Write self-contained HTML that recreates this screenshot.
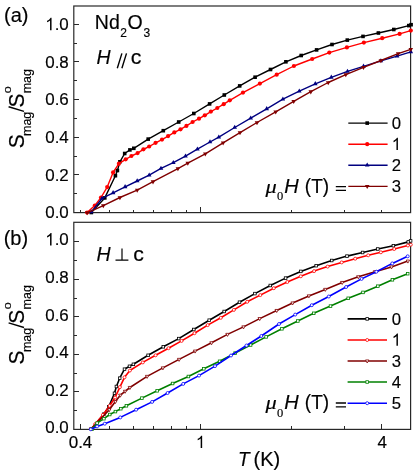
<!DOCTYPE html>
<html><head><meta charset="utf-8"><title>fig</title>
<style>
html,body{margin:0;padding:0;background:#fff;}
body{width:415px;height:475px;overflow:hidden;position:relative;font-family:"Liberation Sans",sans-serif;}
svg text{font-family:"Liberation Sans",sans-serif;}
</style></head><body>
<svg width="415" height="475" viewBox="0 0 415 475" style="position:absolute;left:0;top:0">
<rect x="0" y="0" width="415" height="475" fill="#ffffff"/>
<rect x="73.8" y="6.0" width="336.8" height="206.6" stroke="#282828" stroke-width="1.2" fill="none"/>
<g stroke="#282828" stroke-width="1" fill="none" shape-rendering="crispEdges">
<line x1="73.8" y1="193.77" x2="76.8" y2="193.77"/>
<line x1="73.8" y1="174.94" x2="79.1" y2="174.94"/>
<line x1="73.8" y1="156.11" x2="76.8" y2="156.11"/>
<line x1="73.8" y1="137.28" x2="79.1" y2="137.28"/>
<line x1="73.8" y1="118.45" x2="76.8" y2="118.45"/>
<line x1="73.8" y1="99.62" x2="79.1" y2="99.62"/>
<line x1="73.8" y1="80.79" x2="76.8" y2="80.79"/>
<line x1="73.8" y1="61.96" x2="79.1" y2="61.96"/>
<line x1="73.8" y1="43.13" x2="76.8" y2="43.13"/>
<line x1="73.8" y1="24.30" x2="79.1" y2="24.30"/>
<line x1="80.20" y1="212.6" x2="80.20" y2="209.6"/>
<line x1="109.44" y1="212.6" x2="109.44" y2="209.6"/>
<line x1="133.33" y1="212.6" x2="133.33" y2="209.6"/>
<line x1="153.52" y1="212.6" x2="153.52" y2="209.6"/>
<line x1="171.02" y1="212.6" x2="171.02" y2="209.6"/>
<line x1="186.45" y1="212.6" x2="186.45" y2="209.6"/>
<line x1="200.26" y1="212.6" x2="200.26" y2="207.3"/>
<line x1="291.08" y1="212.6" x2="291.08" y2="209.6"/>
<line x1="344.21" y1="212.6" x2="344.21" y2="209.6"/>
<line x1="381.90" y1="212.6" x2="381.90" y2="209.6"/>
</g>
<rect x="73.8" y="222.3" width="336.8" height="207.1" stroke="#282828" stroke-width="1.2" fill="none"/>
<g stroke="#282828" stroke-width="1" fill="none" shape-rendering="crispEdges">
<line x1="73.8" y1="410.63" x2="76.8" y2="410.63"/>
<line x1="73.8" y1="391.86" x2="79.1" y2="391.86"/>
<line x1="73.8" y1="373.09" x2="76.8" y2="373.09"/>
<line x1="73.8" y1="354.32" x2="79.1" y2="354.32"/>
<line x1="73.8" y1="335.55" x2="76.8" y2="335.55"/>
<line x1="73.8" y1="316.78" x2="79.1" y2="316.78"/>
<line x1="73.8" y1="298.01" x2="76.8" y2="298.01"/>
<line x1="73.8" y1="279.24" x2="79.1" y2="279.24"/>
<line x1="73.8" y1="260.47" x2="76.8" y2="260.47"/>
<line x1="73.8" y1="241.70" x2="79.1" y2="241.70"/>
<line x1="80.20" y1="429.4" x2="80.20" y2="424.1"/>
<line x1="109.44" y1="429.4" x2="109.44" y2="426.4"/>
<line x1="133.33" y1="429.4" x2="133.33" y2="426.4"/>
<line x1="153.52" y1="429.4" x2="153.52" y2="426.4"/>
<line x1="171.02" y1="429.4" x2="171.02" y2="426.4"/>
<line x1="186.45" y1="429.4" x2="186.45" y2="426.4"/>
<line x1="200.26" y1="429.4" x2="200.26" y2="424.1"/>
<line x1="291.08" y1="429.4" x2="291.08" y2="426.4"/>
<line x1="344.21" y1="429.4" x2="344.21" y2="426.4"/>
<line x1="381.90" y1="429.4" x2="381.90" y2="424.1"/>
</g>
<clipPath id="ct"><rect x="70.8" y="3.0" width="342.8" height="212.6"/></clipPath>
<clipPath id="cb"><rect x="70.8" y="219.3" width="342.8" height="213.1"/></clipPath>
<g clip-path="url(#ct)">
<polyline fill="none" stroke="#000000" stroke-width="1.40" stroke-linejoin="round" points="91.3,212.5 104.8,197.9 115.4,175.7 117.4,170.5 119.9,161.8 124.7,153.5 129.9,149.9 133.8,148.3 148.2,139.1 163.3,130.7 178.7,122.0 193.8,113.5 209.6,103.9 224.3,95.0 239.7,85.9 255.1,77.2 270.5,69.5 285.9,61.8 301.2,55.5 316.6,49.9 332.0,44.5 347.3,40.1 363.0,36.4 378.4,33.0 393.8,29.5 408.8,25.6 411.1,24.7"/>
<rect x="89.5" y="210.7" width="3.6" height="3.6" fill="#000000" stroke="#000000" stroke-width="0.0"/>
<rect x="103.0" y="196.1" width="3.6" height="3.6" fill="#000000" stroke="#000000" stroke-width="0.0"/>
<rect x="113.6" y="173.9" width="3.6" height="3.6" fill="#000000" stroke="#000000" stroke-width="0.0"/>
<rect x="115.6" y="168.7" width="3.6" height="3.6" fill="#000000" stroke="#000000" stroke-width="0.0"/>
<rect x="118.1" y="160.0" width="3.6" height="3.6" fill="#000000" stroke="#000000" stroke-width="0.0"/>
<rect x="122.9" y="151.7" width="3.6" height="3.6" fill="#000000" stroke="#000000" stroke-width="0.0"/>
<rect x="128.1" y="148.1" width="3.6" height="3.6" fill="#000000" stroke="#000000" stroke-width="0.0"/>
<rect x="132.0" y="146.5" width="3.6" height="3.6" fill="#000000" stroke="#000000" stroke-width="0.0"/>
<rect x="146.4" y="137.3" width="3.6" height="3.6" fill="#000000" stroke="#000000" stroke-width="0.0"/>
<rect x="161.5" y="128.9" width="3.6" height="3.6" fill="#000000" stroke="#000000" stroke-width="0.0"/>
<rect x="176.9" y="120.2" width="3.6" height="3.6" fill="#000000" stroke="#000000" stroke-width="0.0"/>
<rect x="192.0" y="111.7" width="3.6" height="3.6" fill="#000000" stroke="#000000" stroke-width="0.0"/>
<rect x="207.8" y="102.1" width="3.6" height="3.6" fill="#000000" stroke="#000000" stroke-width="0.0"/>
<rect x="222.5" y="93.2" width="3.6" height="3.6" fill="#000000" stroke="#000000" stroke-width="0.0"/>
<rect x="237.9" y="84.1" width="3.6" height="3.6" fill="#000000" stroke="#000000" stroke-width="0.0"/>
<rect x="253.3" y="75.4" width="3.6" height="3.6" fill="#000000" stroke="#000000" stroke-width="0.0"/>
<rect x="268.7" y="67.7" width="3.6" height="3.6" fill="#000000" stroke="#000000" stroke-width="0.0"/>
<rect x="284.1" y="60.0" width="3.6" height="3.6" fill="#000000" stroke="#000000" stroke-width="0.0"/>
<rect x="299.4" y="53.7" width="3.6" height="3.6" fill="#000000" stroke="#000000" stroke-width="0.0"/>
<rect x="314.8" y="48.1" width="3.6" height="3.6" fill="#000000" stroke="#000000" stroke-width="0.0"/>
<rect x="330.2" y="42.7" width="3.6" height="3.6" fill="#000000" stroke="#000000" stroke-width="0.0"/>
<rect x="345.5" y="38.3" width="3.6" height="3.6" fill="#000000" stroke="#000000" stroke-width="0.0"/>
<rect x="361.2" y="34.6" width="3.6" height="3.6" fill="#000000" stroke="#000000" stroke-width="0.0"/>
<rect x="376.6" y="31.2" width="3.6" height="3.6" fill="#000000" stroke="#000000" stroke-width="0.0"/>
<rect x="392.0" y="27.7" width="3.6" height="3.6" fill="#000000" stroke="#000000" stroke-width="0.0"/>
<rect x="407.0" y="23.8" width="3.6" height="3.6" fill="#000000" stroke="#000000" stroke-width="0.0"/>
<rect x="409.3" y="22.9" width="3.6" height="3.6" fill="#000000" stroke="#000000" stroke-width="0.0"/>
<polyline fill="none" stroke="#ff0000" stroke-width="1.40" stroke-linejoin="round" points="87.1,212.5 94.8,205.6 101.0,197.5 107.2,187.1 113.1,172.4 118.9,163.7 125.7,159.3 131.4,156.0 137.6,153.1 143.4,149.3 149.2,146.5 155.6,142.8 162.0,139.6 168.1,136.1 174.3,132.4 180.5,129.3 186.4,125.9 192.6,122.0 199.0,118.7 204.8,115.3 210.9,111.6 217.3,108.0 223.7,104.2 229.8,100.3 243.0,92.6 259.9,83.6 276.7,74.7 293.9,66.0 312.2,59.0 329.3,52.6 346.9,47.4 363.9,42.6 382.2,38.2 399.6,33.9 410.8,30.6"/>
<circle cx="87.1" cy="212.5" r="2.1" fill="#ff0000" stroke="#ff0000" stroke-width="0.0"/>
<circle cx="94.8" cy="205.6" r="2.1" fill="#ff0000" stroke="#ff0000" stroke-width="0.0"/>
<circle cx="101.0" cy="197.5" r="2.1" fill="#ff0000" stroke="#ff0000" stroke-width="0.0"/>
<circle cx="107.2" cy="187.1" r="2.1" fill="#ff0000" stroke="#ff0000" stroke-width="0.0"/>
<circle cx="113.1" cy="172.4" r="2.1" fill="#ff0000" stroke="#ff0000" stroke-width="0.0"/>
<circle cx="118.9" cy="163.7" r="2.1" fill="#ff0000" stroke="#ff0000" stroke-width="0.0"/>
<circle cx="125.7" cy="159.3" r="2.1" fill="#ff0000" stroke="#ff0000" stroke-width="0.0"/>
<circle cx="131.4" cy="156.0" r="2.1" fill="#ff0000" stroke="#ff0000" stroke-width="0.0"/>
<circle cx="137.6" cy="153.1" r="2.1" fill="#ff0000" stroke="#ff0000" stroke-width="0.0"/>
<circle cx="143.4" cy="149.3" r="2.1" fill="#ff0000" stroke="#ff0000" stroke-width="0.0"/>
<circle cx="149.2" cy="146.5" r="2.1" fill="#ff0000" stroke="#ff0000" stroke-width="0.0"/>
<circle cx="155.6" cy="142.8" r="2.1" fill="#ff0000" stroke="#ff0000" stroke-width="0.0"/>
<circle cx="162.0" cy="139.6" r="2.1" fill="#ff0000" stroke="#ff0000" stroke-width="0.0"/>
<circle cx="168.1" cy="136.1" r="2.1" fill="#ff0000" stroke="#ff0000" stroke-width="0.0"/>
<circle cx="174.3" cy="132.4" r="2.1" fill="#ff0000" stroke="#ff0000" stroke-width="0.0"/>
<circle cx="180.5" cy="129.3" r="2.1" fill="#ff0000" stroke="#ff0000" stroke-width="0.0"/>
<circle cx="186.4" cy="125.9" r="2.1" fill="#ff0000" stroke="#ff0000" stroke-width="0.0"/>
<circle cx="192.6" cy="122.0" r="2.1" fill="#ff0000" stroke="#ff0000" stroke-width="0.0"/>
<circle cx="199.0" cy="118.7" r="2.1" fill="#ff0000" stroke="#ff0000" stroke-width="0.0"/>
<circle cx="204.8" cy="115.3" r="2.1" fill="#ff0000" stroke="#ff0000" stroke-width="0.0"/>
<circle cx="210.9" cy="111.6" r="2.1" fill="#ff0000" stroke="#ff0000" stroke-width="0.0"/>
<circle cx="217.3" cy="108.0" r="2.1" fill="#ff0000" stroke="#ff0000" stroke-width="0.0"/>
<circle cx="223.7" cy="104.2" r="2.1" fill="#ff0000" stroke="#ff0000" stroke-width="0.0"/>
<circle cx="229.8" cy="100.3" r="2.1" fill="#ff0000" stroke="#ff0000" stroke-width="0.0"/>
<circle cx="243.0" cy="92.6" r="2.1" fill="#ff0000" stroke="#ff0000" stroke-width="0.0"/>
<circle cx="259.9" cy="83.6" r="2.1" fill="#ff0000" stroke="#ff0000" stroke-width="0.0"/>
<circle cx="276.7" cy="74.7" r="2.1" fill="#ff0000" stroke="#ff0000" stroke-width="0.0"/>
<circle cx="293.9" cy="66.0" r="2.1" fill="#ff0000" stroke="#ff0000" stroke-width="0.0"/>
<circle cx="312.2" cy="59.0" r="2.1" fill="#ff0000" stroke="#ff0000" stroke-width="0.0"/>
<circle cx="329.3" cy="52.6" r="2.1" fill="#ff0000" stroke="#ff0000" stroke-width="0.0"/>
<circle cx="346.9" cy="47.4" r="2.1" fill="#ff0000" stroke="#ff0000" stroke-width="0.0"/>
<circle cx="363.9" cy="42.6" r="2.1" fill="#ff0000" stroke="#ff0000" stroke-width="0.0"/>
<circle cx="382.2" cy="38.2" r="2.1" fill="#ff0000" stroke="#ff0000" stroke-width="0.0"/>
<circle cx="399.6" cy="33.9" r="2.1" fill="#ff0000" stroke="#ff0000" stroke-width="0.0"/>
<circle cx="410.8" cy="30.6" r="2.1" fill="#ff0000" stroke="#ff0000" stroke-width="0.0"/>
<polyline fill="none" stroke="#000080" stroke-width="1.40" stroke-linejoin="round" points="91.3,212.0 102.0,198.4 113.1,192.8 125.1,186.8 137.2,181.0 149.2,175.2 161.0,168.4 173.3,162.6 185.5,156.1 197.4,149.1 210.0,142.0 218.8,137.2 234.7,127.5 250.7,118.2 266.7,108.8 282.9,99.2 299.3,91.1 315.3,83.8 331.3,77.3 347.5,71.4 363.5,66.3 380.9,60.9 397.1,56.1 410.8,51.8"/>
<polygon points="91.30,209.30 89.00,213.35 93.60,213.35" fill="#000080" stroke="#000080" stroke-width="0.0"/>
<polygon points="102.00,195.70 99.70,199.75 104.30,199.75" fill="#000080" stroke="#000080" stroke-width="0.0"/>
<polygon points="113.10,190.10 110.80,194.15 115.40,194.15" fill="#000080" stroke="#000080" stroke-width="0.0"/>
<polygon points="125.10,184.10 122.80,188.15 127.40,188.15" fill="#000080" stroke="#000080" stroke-width="0.0"/>
<polygon points="137.20,178.30 134.90,182.35 139.50,182.35" fill="#000080" stroke="#000080" stroke-width="0.0"/>
<polygon points="149.20,172.50 146.90,176.55 151.50,176.55" fill="#000080" stroke="#000080" stroke-width="0.0"/>
<polygon points="161.00,165.70 158.70,169.75 163.30,169.75" fill="#000080" stroke="#000080" stroke-width="0.0"/>
<polygon points="173.30,159.90 171.00,163.95 175.60,163.95" fill="#000080" stroke="#000080" stroke-width="0.0"/>
<polygon points="185.50,153.40 183.20,157.45 187.80,157.45" fill="#000080" stroke="#000080" stroke-width="0.0"/>
<polygon points="197.40,146.40 195.10,150.45 199.70,150.45" fill="#000080" stroke="#000080" stroke-width="0.0"/>
<polygon points="210.00,139.30 207.70,143.35 212.30,143.35" fill="#000080" stroke="#000080" stroke-width="0.0"/>
<polygon points="218.80,134.50 216.50,138.55 221.10,138.55" fill="#000080" stroke="#000080" stroke-width="0.0"/>
<polygon points="234.70,124.80 232.40,128.85 237.00,128.85" fill="#000080" stroke="#000080" stroke-width="0.0"/>
<polygon points="250.70,115.50 248.40,119.55 253.00,119.55" fill="#000080" stroke="#000080" stroke-width="0.0"/>
<polygon points="266.70,106.10 264.40,110.15 269.00,110.15" fill="#000080" stroke="#000080" stroke-width="0.0"/>
<polygon points="282.90,96.50 280.60,100.55 285.20,100.55" fill="#000080" stroke="#000080" stroke-width="0.0"/>
<polygon points="299.30,88.40 297.00,92.45 301.60,92.45" fill="#000080" stroke="#000080" stroke-width="0.0"/>
<polygon points="315.30,81.10 313.00,85.15 317.60,85.15" fill="#000080" stroke="#000080" stroke-width="0.0"/>
<polygon points="331.30,74.60 329.00,78.65 333.60,78.65" fill="#000080" stroke="#000080" stroke-width="0.0"/>
<polygon points="347.50,68.70 345.20,72.75 349.80,72.75" fill="#000080" stroke="#000080" stroke-width="0.0"/>
<polygon points="363.50,63.60 361.20,67.65 365.80,67.65" fill="#000080" stroke="#000080" stroke-width="0.0"/>
<polygon points="380.90,58.20 378.60,62.25 383.20,62.25" fill="#000080" stroke="#000080" stroke-width="0.0"/>
<polygon points="397.10,53.40 394.80,57.45 399.40,57.45" fill="#000080" stroke="#000080" stroke-width="0.0"/>
<polygon points="410.80,49.10 408.50,53.15 413.10,53.15" fill="#000080" stroke="#000080" stroke-width="0.0"/>
<polyline fill="none" stroke="#800000" stroke-width="1.40" stroke-linejoin="round" points="87.1,212.9 103.3,205.6 119.9,197.5 137.2,190.1 153.0,181.7 177.9,168.6 187.8,163.1 205.3,153.8 223.1,142.8 240.0,132.6 257.0,122.5 275.7,111.9 293.7,101.3 310.8,91.7 328.2,82.5 345.8,74.6 363.5,67.3 380.9,60.5 398.2,53.6 410.8,49.3"/>
<polygon points="87.10,215.60 84.80,211.55 89.40,211.55" fill="#800000" stroke="#800000" stroke-width="0.0"/>
<polygon points="103.30,208.30 101.00,204.25 105.60,204.25" fill="#800000" stroke="#800000" stroke-width="0.0"/>
<polygon points="119.90,200.20 117.60,196.15 122.20,196.15" fill="#800000" stroke="#800000" stroke-width="0.0"/>
<polygon points="137.20,192.80 134.90,188.75 139.50,188.75" fill="#800000" stroke="#800000" stroke-width="0.0"/>
<polygon points="153.00,184.40 150.70,180.35 155.30,180.35" fill="#800000" stroke="#800000" stroke-width="0.0"/>
<polygon points="177.90,171.30 175.60,167.25 180.20,167.25" fill="#800000" stroke="#800000" stroke-width="0.0"/>
<polygon points="187.80,165.80 185.50,161.75 190.10,161.75" fill="#800000" stroke="#800000" stroke-width="0.0"/>
<polygon points="205.30,156.50 203.00,152.45 207.60,152.45" fill="#800000" stroke="#800000" stroke-width="0.0"/>
<polygon points="223.10,145.50 220.80,141.45 225.40,141.45" fill="#800000" stroke="#800000" stroke-width="0.0"/>
<polygon points="240.00,135.30 237.70,131.25 242.30,131.25" fill="#800000" stroke="#800000" stroke-width="0.0"/>
<polygon points="257.00,125.20 254.70,121.15 259.30,121.15" fill="#800000" stroke="#800000" stroke-width="0.0"/>
<polygon points="275.70,114.60 273.40,110.55 278.00,110.55" fill="#800000" stroke="#800000" stroke-width="0.0"/>
<polygon points="293.70,104.00 291.40,99.95 296.00,99.95" fill="#800000" stroke="#800000" stroke-width="0.0"/>
<polygon points="310.80,94.40 308.50,90.35 313.10,90.35" fill="#800000" stroke="#800000" stroke-width="0.0"/>
<polygon points="328.20,85.20 325.90,81.15 330.50,81.15" fill="#800000" stroke="#800000" stroke-width="0.0"/>
<polygon points="345.80,77.30 343.50,73.25 348.10,73.25" fill="#800000" stroke="#800000" stroke-width="0.0"/>
<polygon points="363.50,70.00 361.20,65.95 365.80,65.95" fill="#800000" stroke="#800000" stroke-width="0.0"/>
<polygon points="380.90,63.20 378.60,59.15 383.20,59.15" fill="#800000" stroke="#800000" stroke-width="0.0"/>
<polygon points="398.20,56.30 395.90,52.25 400.50,52.25" fill="#800000" stroke="#800000" stroke-width="0.0"/>
<polygon points="410.80,52.00 408.50,47.95 413.10,47.95" fill="#800000" stroke="#800000" stroke-width="0.0"/>
</g>
<g clip-path="url(#cb)">
<polyline fill="none" stroke="#000000" stroke-width="1.60" stroke-linejoin="round" points="91.3,428.9 103.9,414.1 108.7,406.8 114.5,393.3 116.4,386.5 119.7,378.2 124.5,369.2 129.5,366.3 133.4,364.3 148.1,355.3 163.3,346.8 178.7,338.6 193.8,329.5 209.2,320.2 224.2,311.5 239.5,302.2 254.9,293.6 270.3,285.5 285.6,278.1 300.8,271.4 316.2,265.7 331.7,260.5 347.0,256.1 362.6,252.5 377.8,249.0 393.4,245.7 408.3,241.9 410.6,240.9"/>
<rect x="90.0" y="427.6" width="2.6" height="2.6" fill="#ffffff" stroke="#000000" stroke-width="0.8"/>
<rect x="102.6" y="412.8" width="2.6" height="2.6" fill="#ffffff" stroke="#000000" stroke-width="0.8"/>
<rect x="107.4" y="405.5" width="2.6" height="2.6" fill="#ffffff" stroke="#000000" stroke-width="0.8"/>
<rect x="113.2" y="392.0" width="2.6" height="2.6" fill="#ffffff" stroke="#000000" stroke-width="0.8"/>
<rect x="115.1" y="385.2" width="2.6" height="2.6" fill="#ffffff" stroke="#000000" stroke-width="0.8"/>
<rect x="118.4" y="376.9" width="2.6" height="2.6" fill="#ffffff" stroke="#000000" stroke-width="0.8"/>
<rect x="123.2" y="367.9" width="2.6" height="2.6" fill="#ffffff" stroke="#000000" stroke-width="0.8"/>
<rect x="128.2" y="365.0" width="2.6" height="2.6" fill="#ffffff" stroke="#000000" stroke-width="0.8"/>
<rect x="132.1" y="363.0" width="2.6" height="2.6" fill="#ffffff" stroke="#000000" stroke-width="0.8"/>
<rect x="146.8" y="354.0" width="2.6" height="2.6" fill="#ffffff" stroke="#000000" stroke-width="0.8"/>
<rect x="162.0" y="345.5" width="2.6" height="2.6" fill="#ffffff" stroke="#000000" stroke-width="0.8"/>
<rect x="177.4" y="337.3" width="2.6" height="2.6" fill="#ffffff" stroke="#000000" stroke-width="0.8"/>
<rect x="192.5" y="328.2" width="2.6" height="2.6" fill="#ffffff" stroke="#000000" stroke-width="0.8"/>
<rect x="207.9" y="318.9" width="2.6" height="2.6" fill="#ffffff" stroke="#000000" stroke-width="0.8"/>
<rect x="222.9" y="310.2" width="2.6" height="2.6" fill="#ffffff" stroke="#000000" stroke-width="0.8"/>
<rect x="238.2" y="300.9" width="2.6" height="2.6" fill="#ffffff" stroke="#000000" stroke-width="0.8"/>
<rect x="253.6" y="292.3" width="2.6" height="2.6" fill="#ffffff" stroke="#000000" stroke-width="0.8"/>
<rect x="269.0" y="284.2" width="2.6" height="2.6" fill="#ffffff" stroke="#000000" stroke-width="0.8"/>
<rect x="284.3" y="276.8" width="2.6" height="2.6" fill="#ffffff" stroke="#000000" stroke-width="0.8"/>
<rect x="299.5" y="270.1" width="2.6" height="2.6" fill="#ffffff" stroke="#000000" stroke-width="0.8"/>
<rect x="314.9" y="264.4" width="2.6" height="2.6" fill="#ffffff" stroke="#000000" stroke-width="0.8"/>
<rect x="330.4" y="259.2" width="2.6" height="2.6" fill="#ffffff" stroke="#000000" stroke-width="0.8"/>
<rect x="345.7" y="254.8" width="2.6" height="2.6" fill="#ffffff" stroke="#000000" stroke-width="0.8"/>
<rect x="361.3" y="251.2" width="2.6" height="2.6" fill="#ffffff" stroke="#000000" stroke-width="0.8"/>
<rect x="376.5" y="247.7" width="2.6" height="2.6" fill="#ffffff" stroke="#000000" stroke-width="0.8"/>
<rect x="392.1" y="244.4" width="2.6" height="2.6" fill="#ffffff" stroke="#000000" stroke-width="0.8"/>
<rect x="407.0" y="240.6" width="2.6" height="2.6" fill="#ffffff" stroke="#000000" stroke-width="0.8"/>
<rect x="409.3" y="239.6" width="2.6" height="2.6" fill="#ffffff" stroke="#000000" stroke-width="0.8"/>
<polyline fill="none" stroke="#ff0000" stroke-width="1.60" stroke-linejoin="round" points="91.3,428.9 95.2,424.1 102.9,414.9 109.7,405.8 115.1,397.5 119.9,387.1 124.5,377.3 129.9,370.5 142.8,362.4 155.6,355.3 168.5,348.2 181.6,340.9 194.5,333.2 207.7,325.1 220.8,317.8 233.9,309.9 247.2,301.8 260.3,295.1 273.8,288.2 287.3,282.0 300.8,276.3 314.1,271.1 327.6,266.6 341.7,262.4 355.2,258.7 368.2,255.3 380.9,252.3 394.2,249.0 407.9,245.5 410.8,244.7"/>
<circle cx="91.3" cy="428.9" r="1.5" fill="#ffffff" stroke="#ff0000" stroke-width="0.8"/>
<circle cx="95.2" cy="424.1" r="1.5" fill="#ffffff" stroke="#ff0000" stroke-width="0.8"/>
<circle cx="102.9" cy="414.9" r="1.5" fill="#ffffff" stroke="#ff0000" stroke-width="0.8"/>
<circle cx="109.7" cy="405.8" r="1.5" fill="#ffffff" stroke="#ff0000" stroke-width="0.8"/>
<circle cx="115.1" cy="397.5" r="1.5" fill="#ffffff" stroke="#ff0000" stroke-width="0.8"/>
<circle cx="119.9" cy="387.1" r="1.5" fill="#ffffff" stroke="#ff0000" stroke-width="0.8"/>
<circle cx="124.5" cy="377.3" r="1.5" fill="#ffffff" stroke="#ff0000" stroke-width="0.8"/>
<circle cx="129.9" cy="370.5" r="1.5" fill="#ffffff" stroke="#ff0000" stroke-width="0.8"/>
<circle cx="142.8" cy="362.4" r="1.5" fill="#ffffff" stroke="#ff0000" stroke-width="0.8"/>
<circle cx="155.6" cy="355.3" r="1.5" fill="#ffffff" stroke="#ff0000" stroke-width="0.8"/>
<circle cx="168.5" cy="348.2" r="1.5" fill="#ffffff" stroke="#ff0000" stroke-width="0.8"/>
<circle cx="181.6" cy="340.9" r="1.5" fill="#ffffff" stroke="#ff0000" stroke-width="0.8"/>
<circle cx="194.5" cy="333.2" r="1.5" fill="#ffffff" stroke="#ff0000" stroke-width="0.8"/>
<circle cx="207.7" cy="325.1" r="1.5" fill="#ffffff" stroke="#ff0000" stroke-width="0.8"/>
<circle cx="220.8" cy="317.8" r="1.5" fill="#ffffff" stroke="#ff0000" stroke-width="0.8"/>
<circle cx="233.9" cy="309.9" r="1.5" fill="#ffffff" stroke="#ff0000" stroke-width="0.8"/>
<circle cx="247.2" cy="301.8" r="1.5" fill="#ffffff" stroke="#ff0000" stroke-width="0.8"/>
<circle cx="260.3" cy="295.1" r="1.5" fill="#ffffff" stroke="#ff0000" stroke-width="0.8"/>
<circle cx="273.8" cy="288.2" r="1.5" fill="#ffffff" stroke="#ff0000" stroke-width="0.8"/>
<circle cx="287.3" cy="282.0" r="1.5" fill="#ffffff" stroke="#ff0000" stroke-width="0.8"/>
<circle cx="300.8" cy="276.3" r="1.5" fill="#ffffff" stroke="#ff0000" stroke-width="0.8"/>
<circle cx="314.1" cy="271.1" r="1.5" fill="#ffffff" stroke="#ff0000" stroke-width="0.8"/>
<circle cx="327.6" cy="266.6" r="1.5" fill="#ffffff" stroke="#ff0000" stroke-width="0.8"/>
<circle cx="341.7" cy="262.4" r="1.5" fill="#ffffff" stroke="#ff0000" stroke-width="0.8"/>
<circle cx="355.2" cy="258.7" r="1.5" fill="#ffffff" stroke="#ff0000" stroke-width="0.8"/>
<circle cx="368.2" cy="255.3" r="1.5" fill="#ffffff" stroke="#ff0000" stroke-width="0.8"/>
<circle cx="380.9" cy="252.3" r="1.5" fill="#ffffff" stroke="#ff0000" stroke-width="0.8"/>
<circle cx="394.2" cy="249.0" r="1.5" fill="#ffffff" stroke="#ff0000" stroke-width="0.8"/>
<circle cx="407.9" cy="245.5" r="1.5" fill="#ffffff" stroke="#ff0000" stroke-width="0.8"/>
<circle cx="410.8" cy="244.7" r="1.5" fill="#ffffff" stroke="#ff0000" stroke-width="0.8"/>
<polyline fill="none" stroke="#800000" stroke-width="1.60" stroke-linejoin="round" points="91.3,428.9 109.3,409.7 115.4,401.6 120.3,395.2 125.1,391.3 129.9,387.5 147.1,376.4 162.9,367.9 179.1,359.4 195.1,351.1 211.5,342.8 227.5,334.4 243.5,326.9 259.7,318.6 276.7,310.5 292.6,303.0 308.9,295.9 325.3,289.4 342.2,282.5 358.3,276.8 375.1,271.7 391.5,266.9 407.9,261.1"/>
<polygon points="91.30,430.90 89.60,427.85 93.00,427.85" fill="#ffffff" stroke="#800000" stroke-width="0.8"/>
<polygon points="109.30,411.70 107.60,408.65 111.00,408.65" fill="#ffffff" stroke="#800000" stroke-width="0.8"/>
<polygon points="115.40,403.60 113.70,400.55 117.10,400.55" fill="#ffffff" stroke="#800000" stroke-width="0.8"/>
<polygon points="120.30,397.20 118.60,394.15 122.00,394.15" fill="#ffffff" stroke="#800000" stroke-width="0.8"/>
<polygon points="125.10,393.30 123.40,390.25 126.80,390.25" fill="#ffffff" stroke="#800000" stroke-width="0.8"/>
<polygon points="129.90,389.50 128.20,386.45 131.60,386.45" fill="#ffffff" stroke="#800000" stroke-width="0.8"/>
<polygon points="147.10,378.40 145.40,375.35 148.80,375.35" fill="#ffffff" stroke="#800000" stroke-width="0.8"/>
<polygon points="162.90,369.90 161.20,366.85 164.60,366.85" fill="#ffffff" stroke="#800000" stroke-width="0.8"/>
<polygon points="179.10,361.40 177.40,358.35 180.80,358.35" fill="#ffffff" stroke="#800000" stroke-width="0.8"/>
<polygon points="195.10,353.10 193.40,350.05 196.80,350.05" fill="#ffffff" stroke="#800000" stroke-width="0.8"/>
<polygon points="211.50,344.80 209.80,341.75 213.20,341.75" fill="#ffffff" stroke="#800000" stroke-width="0.8"/>
<polygon points="227.50,336.40 225.80,333.35 229.20,333.35" fill="#ffffff" stroke="#800000" stroke-width="0.8"/>
<polygon points="243.50,328.90 241.80,325.85 245.20,325.85" fill="#ffffff" stroke="#800000" stroke-width="0.8"/>
<polygon points="259.70,320.60 258.00,317.55 261.40,317.55" fill="#ffffff" stroke="#800000" stroke-width="0.8"/>
<polygon points="276.70,312.50 275.00,309.45 278.40,309.45" fill="#ffffff" stroke="#800000" stroke-width="0.8"/>
<polygon points="292.60,305.00 290.90,301.95 294.30,301.95" fill="#ffffff" stroke="#800000" stroke-width="0.8"/>
<polygon points="308.90,297.90 307.20,294.85 310.60,294.85" fill="#ffffff" stroke="#800000" stroke-width="0.8"/>
<polygon points="325.30,291.40 323.60,288.35 327.00,288.35" fill="#ffffff" stroke="#800000" stroke-width="0.8"/>
<polygon points="342.20,284.50 340.50,281.45 343.90,281.45" fill="#ffffff" stroke="#800000" stroke-width="0.8"/>
<polygon points="358.30,278.80 356.60,275.75 360.00,275.75" fill="#ffffff" stroke="#800000" stroke-width="0.8"/>
<polygon points="375.10,273.70 373.40,270.65 376.80,270.65" fill="#ffffff" stroke="#800000" stroke-width="0.8"/>
<polygon points="391.50,268.90 389.80,265.85 393.20,265.85" fill="#ffffff" stroke="#800000" stroke-width="0.8"/>
<polygon points="407.90,263.10 406.20,260.05 409.60,260.05" fill="#ffffff" stroke="#800000" stroke-width="0.8"/>
<polyline fill="none" stroke="#008000" stroke-width="1.60" stroke-linejoin="round" points="92.3,428.9 97.1,423.1 103.9,418.7 109.7,414.5 115.4,411.6 120.8,408.7 126.4,405.8 141.9,398.1 157.2,390.8 172.6,383.5 188.4,376.5 203.8,368.8 219.6,361.3 235.1,353.1 250.6,345.0 266.1,336.9 281.9,328.8 297.8,321.0 313.7,313.3 330.5,306.1 348.2,298.3 363.0,292.4 377.8,286.2 392.4,279.8 407.7,273.7"/>
<rect x="91.0" y="427.6" width="2.6" height="2.6" fill="#ffffff" stroke="#008000" stroke-width="0.8"/>
<rect x="95.8" y="421.8" width="2.6" height="2.6" fill="#ffffff" stroke="#008000" stroke-width="0.8"/>
<rect x="102.6" y="417.4" width="2.6" height="2.6" fill="#ffffff" stroke="#008000" stroke-width="0.8"/>
<rect x="108.4" y="413.2" width="2.6" height="2.6" fill="#ffffff" stroke="#008000" stroke-width="0.8"/>
<rect x="114.1" y="410.3" width="2.6" height="2.6" fill="#ffffff" stroke="#008000" stroke-width="0.8"/>
<rect x="119.5" y="407.4" width="2.6" height="2.6" fill="#ffffff" stroke="#008000" stroke-width="0.8"/>
<rect x="125.1" y="404.5" width="2.6" height="2.6" fill="#ffffff" stroke="#008000" stroke-width="0.8"/>
<rect x="140.6" y="396.8" width="2.6" height="2.6" fill="#ffffff" stroke="#008000" stroke-width="0.8"/>
<rect x="155.9" y="389.5" width="2.6" height="2.6" fill="#ffffff" stroke="#008000" stroke-width="0.8"/>
<rect x="171.3" y="382.2" width="2.6" height="2.6" fill="#ffffff" stroke="#008000" stroke-width="0.8"/>
<rect x="187.1" y="375.2" width="2.6" height="2.6" fill="#ffffff" stroke="#008000" stroke-width="0.8"/>
<rect x="202.5" y="367.5" width="2.6" height="2.6" fill="#ffffff" stroke="#008000" stroke-width="0.8"/>
<rect x="218.3" y="360.0" width="2.6" height="2.6" fill="#ffffff" stroke="#008000" stroke-width="0.8"/>
<rect x="233.8" y="351.8" width="2.6" height="2.6" fill="#ffffff" stroke="#008000" stroke-width="0.8"/>
<rect x="249.3" y="343.7" width="2.6" height="2.6" fill="#ffffff" stroke="#008000" stroke-width="0.8"/>
<rect x="264.8" y="335.6" width="2.6" height="2.6" fill="#ffffff" stroke="#008000" stroke-width="0.8"/>
<rect x="280.6" y="327.5" width="2.6" height="2.6" fill="#ffffff" stroke="#008000" stroke-width="0.8"/>
<rect x="296.5" y="319.7" width="2.6" height="2.6" fill="#ffffff" stroke="#008000" stroke-width="0.8"/>
<rect x="312.4" y="312.0" width="2.6" height="2.6" fill="#ffffff" stroke="#008000" stroke-width="0.8"/>
<rect x="329.2" y="304.8" width="2.6" height="2.6" fill="#ffffff" stroke="#008000" stroke-width="0.8"/>
<rect x="346.9" y="297.0" width="2.6" height="2.6" fill="#ffffff" stroke="#008000" stroke-width="0.8"/>
<rect x="361.7" y="291.1" width="2.6" height="2.6" fill="#ffffff" stroke="#008000" stroke-width="0.8"/>
<rect x="376.5" y="284.9" width="2.6" height="2.6" fill="#ffffff" stroke="#008000" stroke-width="0.8"/>
<rect x="391.1" y="278.5" width="2.6" height="2.6" fill="#ffffff" stroke="#008000" stroke-width="0.8"/>
<rect x="406.4" y="272.4" width="2.6" height="2.6" fill="#ffffff" stroke="#008000" stroke-width="0.8"/>
<polyline fill="none" stroke="#0000ff" stroke-width="1.60" stroke-linejoin="round" points="90.8,429.3 97.1,426.4 104.8,423.7 120.3,417.4 136.1,409.7 152.1,401.9 167.6,393.0 183.2,383.9 199.0,375.6 215.0,366.1 231.0,355.5 246.5,345.5 261.3,336.0 279.0,324.0 295.2,314.6 311.8,305.2 328.8,296.5 346.1,287.0 361.6,278.9 376.4,271.7 392.3,263.4 407.7,256.3"/>
<circle cx="90.8" cy="429.3" r="1.5" fill="#ffffff" stroke="#0000ff" stroke-width="0.8"/>
<circle cx="97.1" cy="426.4" r="1.5" fill="#ffffff" stroke="#0000ff" stroke-width="0.8"/>
<circle cx="104.8" cy="423.7" r="1.5" fill="#ffffff" stroke="#0000ff" stroke-width="0.8"/>
<circle cx="120.3" cy="417.4" r="1.5" fill="#ffffff" stroke="#0000ff" stroke-width="0.8"/>
<circle cx="136.1" cy="409.7" r="1.5" fill="#ffffff" stroke="#0000ff" stroke-width="0.8"/>
<circle cx="152.1" cy="401.9" r="1.5" fill="#ffffff" stroke="#0000ff" stroke-width="0.8"/>
<circle cx="167.6" cy="393.0" r="1.5" fill="#ffffff" stroke="#0000ff" stroke-width="0.8"/>
<circle cx="183.2" cy="383.9" r="1.5" fill="#ffffff" stroke="#0000ff" stroke-width="0.8"/>
<circle cx="199.0" cy="375.6" r="1.5" fill="#ffffff" stroke="#0000ff" stroke-width="0.8"/>
<circle cx="215.0" cy="366.1" r="1.5" fill="#ffffff" stroke="#0000ff" stroke-width="0.8"/>
<circle cx="231.0" cy="355.5" r="1.5" fill="#ffffff" stroke="#0000ff" stroke-width="0.8"/>
<circle cx="246.5" cy="345.5" r="1.5" fill="#ffffff" stroke="#0000ff" stroke-width="0.8"/>
<circle cx="261.3" cy="336.0" r="1.5" fill="#ffffff" stroke="#0000ff" stroke-width="0.8"/>
<circle cx="279.0" cy="324.0" r="1.5" fill="#ffffff" stroke="#0000ff" stroke-width="0.8"/>
<circle cx="295.2" cy="314.6" r="1.5" fill="#ffffff" stroke="#0000ff" stroke-width="0.8"/>
<circle cx="311.8" cy="305.2" r="1.5" fill="#ffffff" stroke="#0000ff" stroke-width="0.8"/>
<circle cx="328.8" cy="296.5" r="1.5" fill="#ffffff" stroke="#0000ff" stroke-width="0.8"/>
<circle cx="346.1" cy="287.0" r="1.5" fill="#ffffff" stroke="#0000ff" stroke-width="0.8"/>
<circle cx="361.6" cy="278.9" r="1.5" fill="#ffffff" stroke="#0000ff" stroke-width="0.8"/>
<circle cx="376.4" cy="271.7" r="1.5" fill="#ffffff" stroke="#0000ff" stroke-width="0.8"/>
<circle cx="392.3" cy="263.4" r="1.5" fill="#ffffff" stroke="#0000ff" stroke-width="0.8"/>
<circle cx="407.7" cy="256.3" r="1.5" fill="#ffffff" stroke="#0000ff" stroke-width="0.8"/>
</g>
<line x1="348.3" y1="123.10" x2="387.6" y2="123.10" stroke="#000000" stroke-width="1.40"/>
<rect x="365.4" y="121.3" width="3.6" height="3.6" fill="#000000" stroke="#000000" stroke-width="0.0"/>
<line x1="348.3" y1="144.20" x2="387.6" y2="144.20" stroke="#ff0000" stroke-width="1.40"/>
<circle cx="367.2" cy="144.2" r="2.1" fill="#ff0000" stroke="#ff0000" stroke-width="0.0"/>
<line x1="348.3" y1="165.25" x2="387.6" y2="165.25" stroke="#000080" stroke-width="1.40"/>
<polygon points="367.20,162.55 364.90,166.60 369.50,166.60" fill="#000080" stroke="#000080" stroke-width="0.0"/>
<line x1="348.3" y1="186.35" x2="387.6" y2="186.35" stroke="#800000" stroke-width="1.40"/>
<polygon points="367.20,189.05 364.90,185.00 369.50,185.00" fill="#800000" stroke="#800000" stroke-width="0.0"/>
<line x1="347.6" y1="318.90" x2="387.0" y2="318.90" stroke="#000000" stroke-width="1.60"/>
<rect x="365.9" y="317.6" width="2.6" height="2.6" fill="#ffffff" stroke="#000000" stroke-width="0.8"/>
<line x1="347.6" y1="340.00" x2="387.0" y2="340.00" stroke="#ff0000" stroke-width="1.60"/>
<circle cx="367.2" cy="340.0" r="1.5" fill="#ffffff" stroke="#ff0000" stroke-width="0.8"/>
<line x1="347.6" y1="361.00" x2="387.0" y2="361.00" stroke="#800000" stroke-width="1.60"/>
<polygon points="367.20,363.00 365.50,359.95 368.90,359.95" fill="#ffffff" stroke="#800000" stroke-width="0.8"/>
<line x1="347.6" y1="382.00" x2="387.0" y2="382.00" stroke="#008000" stroke-width="1.60"/>
<rect x="365.9" y="380.7" width="2.6" height="2.6" fill="#ffffff" stroke="#008000" stroke-width="0.8"/>
<line x1="347.6" y1="403.20" x2="387.0" y2="403.20" stroke="#0000ff" stroke-width="1.60"/>
<circle cx="367.2" cy="403.2" r="1.5" fill="#ffffff" stroke="#0000ff" stroke-width="0.8"/>
<g opacity="0.999" style="filter:grayscale(1)" fill="#000" stroke="#000" stroke-width="0.18">
<text transform="translate(391.70,128.90) scale(0.970,1.000)" font-size="17.20" text-anchor="start">0</text>
<path transform="translate(391.70,150.00) scale(0.00815,-0.00840)" stroke="none" d="M763 0H583V1147Q518 1085 412.5 1023T223 930V1104Q374 1175 487 1276T647 1472H763Z"/>
<text transform="translate(391.70,171.05) scale(0.970,1.000)" font-size="17.20" text-anchor="start">2</text>
<text transform="translate(391.70,192.15) scale(0.970,1.000)" font-size="17.20" text-anchor="start">3</text>
<text transform="translate(391.70,324.70) scale(0.970,1.000)" font-size="17.20" text-anchor="start">0</text>
<path transform="translate(391.70,345.80) scale(0.00815,-0.00840)" stroke="none" d="M763 0H583V1147Q518 1085 412.5 1023T223 930V1104Q374 1175 487 1276T647 1472H763Z"/>
<text transform="translate(391.70,366.80) scale(0.970,1.000)" font-size="17.20" text-anchor="start">3</text>
<text transform="translate(391.70,387.80) scale(0.970,1.000)" font-size="17.20" text-anchor="start">4</text>
<text transform="translate(391.70,409.00) scale(0.970,1.000)" font-size="17.20" text-anchor="start">5</text>
<text transform="translate(265.60,192.50) scale(1.150,1.000)" font-size="19.50" text-anchor="start" font-style="italic" style="font-family:'Liberation Serif',serif">μ</text>
<text transform="translate(277.00,200.10)" font-size="12.50" text-anchor="start" style="font-family:'Liberation Serif',serif">0</text>
<text transform="translate(284.30,192.50)" font-size="20.00" text-anchor="start" font-style="italic">H</text>
<text transform="translate(304.80,192.50) scale(0.950,1.000)" font-size="20.00" text-anchor="start">(T)</text>
<path d="M335.8,186.6 H346 M335.8,190.4 H346" stroke="#000" stroke-width="1.3" fill="none"/>
<text transform="translate(265.60,408.90) scale(1.150,1.000)" font-size="19.50" text-anchor="start" font-style="italic" style="font-family:'Liberation Serif',serif">μ</text>
<text transform="translate(277.00,416.50)" font-size="12.50" text-anchor="start" style="font-family:'Liberation Serif',serif">0</text>
<text transform="translate(284.30,408.90)" font-size="20.00" text-anchor="start" font-style="italic">H</text>
<text transform="translate(304.80,408.90) scale(0.950,1.000)" font-size="20.00" text-anchor="start">(T)</text>
<path d="M335.8,403.0 H346 M335.8,406.8 H346" stroke="#000" stroke-width="1.3" fill="none"/>
<text transform="translate(68.80,218.10) scale(0.980,1.000)" font-size="17.30" text-anchor="end">0.0</text>
<text transform="translate(68.80,180.52) scale(0.980,1.000)" font-size="17.30" text-anchor="end">0.2</text>
<text transform="translate(68.80,142.94) scale(0.980,1.000)" font-size="17.30" text-anchor="end">0.4</text>
<text transform="translate(68.80,105.36) scale(0.980,1.000)" font-size="17.30" text-anchor="end">0.6</text>
<text transform="translate(68.80,67.78) scale(0.980,1.000)" font-size="17.30" text-anchor="end">0.8</text>
<text transform="translate(68.80,30.20) scale(0.980,1.000)" font-size="17.30" text-anchor="end">.0</text>
<path transform="translate(45.23,30.20) scale(0.00828,-0.00845)" stroke="none" d="M763 0H583V1147Q518 1085 412.5 1023T223 930V1104Q374 1175 487 1276T647 1472H763Z"/>
<text transform="translate(68.80,433.30) scale(0.980,1.000)" font-size="17.30" text-anchor="end">0.0</text>
<text transform="translate(68.80,395.72) scale(0.980,1.000)" font-size="17.30" text-anchor="end">0.2</text>
<text transform="translate(68.80,358.14) scale(0.980,1.000)" font-size="17.30" text-anchor="end">0.4</text>
<text transform="translate(68.80,320.56) scale(0.980,1.000)" font-size="17.30" text-anchor="end">0.6</text>
<text transform="translate(68.80,282.98) scale(0.980,1.000)" font-size="17.30" text-anchor="end">0.8</text>
<text transform="translate(68.80,245.40) scale(0.980,1.000)" font-size="17.30" text-anchor="end">.0</text>
<path transform="translate(45.23,245.40) scale(0.00828,-0.00845)" stroke="none" d="M763 0H583V1147Q518 1085 412.5 1023T223 930V1104Q374 1175 487 1276T647 1472H763Z"/>
<text transform="translate(80.50,448.00)" font-size="17.00" text-anchor="middle">0.4</text>
<path transform="translate(195.83,448.00) scale(0.00830,-0.00830)" stroke="none" d="M763 0H583V1147Q518 1085 412.5 1023T223 930V1104Q374 1175 487 1276T647 1472H763Z"/>
<text transform="translate(382.20,448.00)" font-size="17.00" text-anchor="middle">4</text>
<text transform="translate(4.00,22.00)" font-size="20.00" text-anchor="start">(a)</text>
<text transform="translate(3.70,244.90)" font-size="20.00" text-anchor="start">(b)</text>
<text transform="translate(94.80,29.20)" font-size="19.50" text-anchor="start">N</text>
<text transform="translate(109.00,29.20)" font-size="19.50" text-anchor="start">d</text>
<text transform="translate(120.20,36.80)" font-size="12.00" text-anchor="start">2</text>
<text transform="translate(127.50,29.20)" font-size="19.50" text-anchor="start">O</text>
<text transform="translate(143.40,36.80)" font-size="12.00" text-anchor="start">3</text>
<text transform="translate(96.50,64.20)" font-size="19.50" text-anchor="start" font-style="italic">H</text>
<text transform="translate(130.80,64.40) scale(1.040,0.960)" font-size="20.50" text-anchor="start">c</text>
<path d="M117.3,68.2 L121.9,53.4 M121.9,68.2 L126.5,53.4" stroke="#000" stroke-width="1.4" fill="none"/>
<text transform="translate(96.50,260.60)" font-size="19.50" text-anchor="start" font-style="italic">H</text>
<text transform="translate(133.20,261.20) scale(1.040,0.960)" font-size="20.50" text-anchor="start">c</text>
<path d="M115.5,260.1 H128.4 M122,260.1 V248.4" stroke="#000" stroke-width="1.2" fill="none"/>
<text transform="translate(238.00,466.00) scale(0.950,1.000)" font-size="20.00" text-anchor="start" font-style="italic">T</text>
<text transform="translate(253.60,466.00)" font-size="20.00" text-anchor="start">(K)</text>
<text transform="translate(24.00,148.30) rotate(-90) scale(1.000,1.090)" font-size="21.00" text-anchor="start">S</text>
<text transform="translate(30.80,136.00) rotate(-90)" font-size="12.50" text-anchor="start">mag</text>
<path d="M24.0,111.4 L8.6,106.8" stroke="#000" stroke-width="1.45" fill="none"/>
<text transform="translate(24.00,107.60) rotate(-90) scale(1.000,1.090)" font-size="21.00" text-anchor="start">S</text>
<text transform="translate(10.90,93.20) rotate(-90) scale(1.400,1.000)" font-size="9.00" text-anchor="start">0</text>
<text transform="translate(30.80,93.30) rotate(-90)" font-size="12.50" text-anchor="start">mag</text>
<text transform="translate(24.00,364.40) rotate(-90) scale(1.000,1.090)" font-size="21.00" text-anchor="start">S</text>
<text transform="translate(30.80,352.10) rotate(-90)" font-size="12.50" text-anchor="start">mag</text>
<path d="M24.0,327.5 L8.6,322.9" stroke="#000" stroke-width="1.45" fill="none"/>
<text transform="translate(24.00,323.70) rotate(-90) scale(1.000,1.090)" font-size="21.00" text-anchor="start">S</text>
<text transform="translate(10.90,309.30) rotate(-90) scale(1.400,1.000)" font-size="9.00" text-anchor="start">0</text>
<text transform="translate(30.80,309.40) rotate(-90)" font-size="12.50" text-anchor="start">mag</text>
</g>
</svg>
</body></html>
